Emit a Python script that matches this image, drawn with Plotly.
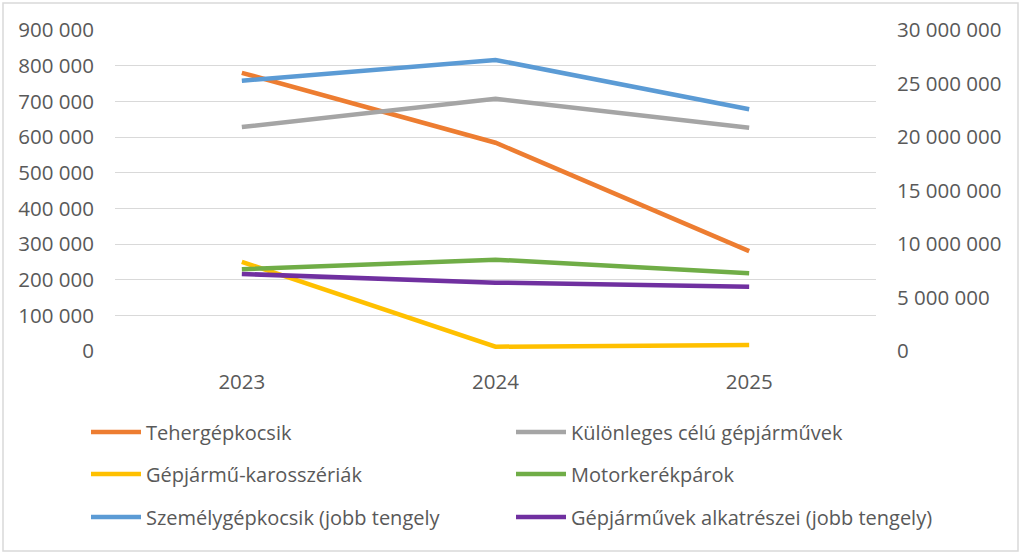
import plotly.graph_objects as go

years = ["2023", "2024", "2025"]

teher = [780000, 584000, 280000]
kulonleges = [628000, 707000, 626000]
karosszeria = [250000, 12000, 17000]
motor = [229000, 256000, 218000]
szemely = [25260000, 27200000, 22590000]
alkatresz = [7200000, 6390000, 6010000]

left_ticks = [0, 100000, 200000, 300000, 400000, 500000, 600000, 700000, 800000, 900000]
left_labels = ["0", "100 000", "200 000", "300 000", "400 000", "500 000", "600 000", "700 000", "800 000", "900 000"]
right_ticks = [0, 5000000, 10000000, 15000000, 20000000, 25000000, 30000000]
right_labels = ["0", "5 000 000", "10 000 000", "15 000 000", "20 000 000", "25 000 000", "30 000 000"]

FONT = "Open Sans"
TXT = "#595959"
FS = 20.5
LFS = 20
W = 4.5

L, R, T, B = 115, 148, 30, 204
PW = 1024 - L - R
PH = 555 - T - B

def px_x(p):
    return (p - L) / PW

def px_y(p):
    return (555 - B - p) / PH

# name, values, colour, axis, legend column px, legend row px
series = [
    ("Tehergépkocsik", teher, "#ED7D31", "y", 86, 432),
    ("Különleges célú gépjárművek", kulonleges, "#A5A5A5", "y", 511, 432),
    ("Gépjármű-karosszériák", karosszeria, "#FFC000", "y", 86, 474),
    ("Motorkerékpárok", motor, "#70AD47", "y", 511, 474),
    ("Személygépkocsik (jobb tengely", szemely, "#5B9BD5", "y2", 86, 517),
    ("Gépjárművek alkatrészei (jobb tengely)", alkatresz, "#7030A0", "y2", 511, 517),
]

fig = go.Figure()
legends = {}
for i, (name, vals, col, ax, lx, ly) in enumerate(series):
    key = "legend" if i == 0 else f"legend{i + 1}"
    fig.add_trace(go.Scatter(
        x=years, y=vals, name=name, mode="lines", yaxis=ax, legend=key,
        line=dict(color=col, width=W),
    ))
    legends[key] = dict(
        orientation="h", font=dict(family=FONT, size=LFS, color=TXT),
        bgcolor="rgba(0,0,0,0)", xanchor="left", yanchor="middle",
        x=px_x(lx), y=px_y(ly), itemwidth=50,
    )

fig.update_layout(
    width=1024, height=555,
    margin=dict(l=L, r=R, t=T, b=B, autoexpand=False),
    paper_bgcolor="white", plot_bgcolor="white",
    font=dict(family=FONT, size=FS, color=TXT),
    xaxis=dict(type="category", range=[-0.5, 2.5], showgrid=False, showline=False,
               ticks="", ticklabelstandoff=16, tickfont=dict(size=FS, color=TXT), zeroline=False),
    yaxis=dict(range=[0, 900000], tickvals=left_ticks, ticktext=left_labels,
               showgrid=True, gridcolor="#D9D9D9", gridwidth=1, zeroline=False,
               showline=False, ticks="", ticklabelstandoff=20,
               tickfont=dict(size=FS, color=TXT)),
    yaxis2=dict(range=[0, 30000000], tickvals=right_ticks, ticktext=right_labels,
                overlaying="y", side="right", showgrid=False, zeroline=False,
                showline=False, ticks="", ticklabelstandoff=20,
                tickfont=dict(size=FS, color=TXT)),
    showlegend=True,
    **legends,
)

fig.add_shape(type="rect", xref="paper", yref="paper",
              x0=px_x(3), x1=px_x(1018), y0=px_y(551), y1=px_y(3),
              line=dict(color="#D9D9D9", width=1.5), fillcolor="rgba(0,0,0,0)", layer="below")

fig.write_html(
    "out.html",
    config={"displayModeBar": False},
    post_script="document.body.style.margin='0px';document.body.style.padding='0px';document.body.style.overflow='hidden';",
)
